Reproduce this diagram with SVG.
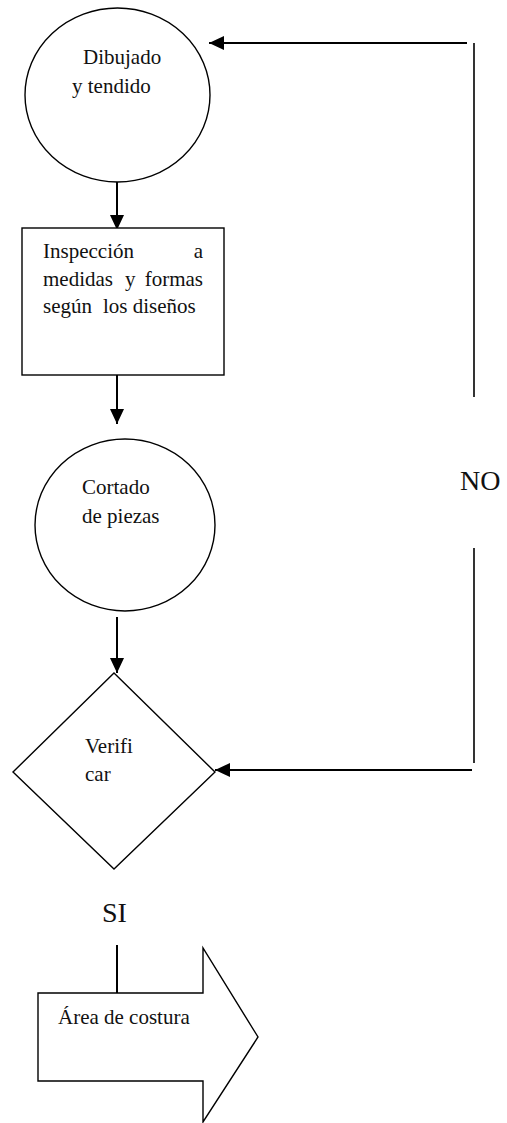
<svg xmlns="http://www.w3.org/2000/svg" width="507" height="1123" viewBox="0 0 507 1123">
  <style>
    .shape { fill: #fff; stroke: #000; stroke-width: 1.4; }
    .flow { fill: none; stroke: #000; stroke-width: 2; }
    .rail { fill: none; stroke: #000; stroke-width: 1.6; }
    .lbl { font-family: "Liberation Serif", "Times New Roman", serif; font-size: 21px; fill: #111; }
    .big { font-family: "Liberation Serif", "Times New Roman", serif; font-size: 28px; fill: #111; }
  </style>
  <defs>
    <marker id="head" markerUnits="userSpaceOnUse" markerWidth="16" markerHeight="16" viewBox="0 0 16 16" refX="15" refY="8" orient="auto">
      <path d="M0,1 L15,8 L0,15 Z" fill="#000"/>
    </marker>
  </defs>

  <rect width="507" height="1123" fill="#fff"/>

  <!-- connectors -->
  <g id="connectors">
    <line class="flow" x1="117" y1="182" x2="117" y2="230" marker-end="url(#head)"/>
    <line class="flow" x1="117" y1="367" x2="117" y2="424" marker-end="url(#head)"/>
    <line class="flow" x1="117" y1="617" x2="117" y2="673" marker-end="url(#head)"/>
    <!-- NO loop back to the start -->
    <line class="rail" x1="474" y1="548" x2="474" y2="763"/>
    <line class="flow" x1="472" y1="770" x2="215" y2="770" marker-end="url(#head)"/>
    <line class="rail" x1="474" y1="43" x2="474" y2="397"/>
    <line class="flow" x1="467" y1="43" x2="209" y2="43" marker-end="url(#head)"/>
    <!-- SI exit -->
    <line class="flow" x1="117" y1="945" x2="117" y2="993"/>
    <text class="big" x="460" y="490">NO</text>
    <text class="big" x="102" y="922">SI</text>
  </g>

  <g id="dibujado">
    <ellipse class="shape" cx="117.5" cy="95" rx="92.5" ry="87"/>
    <text class="lbl" x="83" y="64">Dibujado</text>
    <text class="lbl" x="72" y="93">y tendido</text>
  </g>

  <g id="inspeccion">
    <rect class="shape" x="22" y="228" width="202" height="147"/>
    <text class="lbl" x="43" y="258">Inspección</text>
    <text class="lbl" x="203" y="258" text-anchor="end">a</text>
    <text class="lbl" x="43" y="286">medidas</text>
    <text class="lbl" x="125" y="286">y</text>
    <text class="lbl" x="203" y="286" text-anchor="end">formas</text>
    <text class="lbl" x="43" y="313">según</text>
    <text class="lbl" x="103" y="313">los diseños</text>
  </g>

  <g id="cortado">
    <ellipse class="shape" cx="125" cy="525" rx="90" ry="86"/>
    <text class="lbl" x="82" y="494">Cortado</text>
    <text class="lbl" x="82" y="523">de piezas</text>
  </g>

  <g id="verificar">
    <polygon class="shape" points="114,673 215,772 114,869 13,772"/>
    <text class="lbl" x="85" y="753">Verifi</text>
    <text class="lbl" x="85" y="781">car</text>
  </g>

  <g id="costura">
    <polygon class="shape" points="38,993 203,993 203,948 258,1037 203,1122 203,1081 38,1081"/>
    <text class="lbl" x="58" y="1024">Área de costura</text>
  </g>
</svg>
